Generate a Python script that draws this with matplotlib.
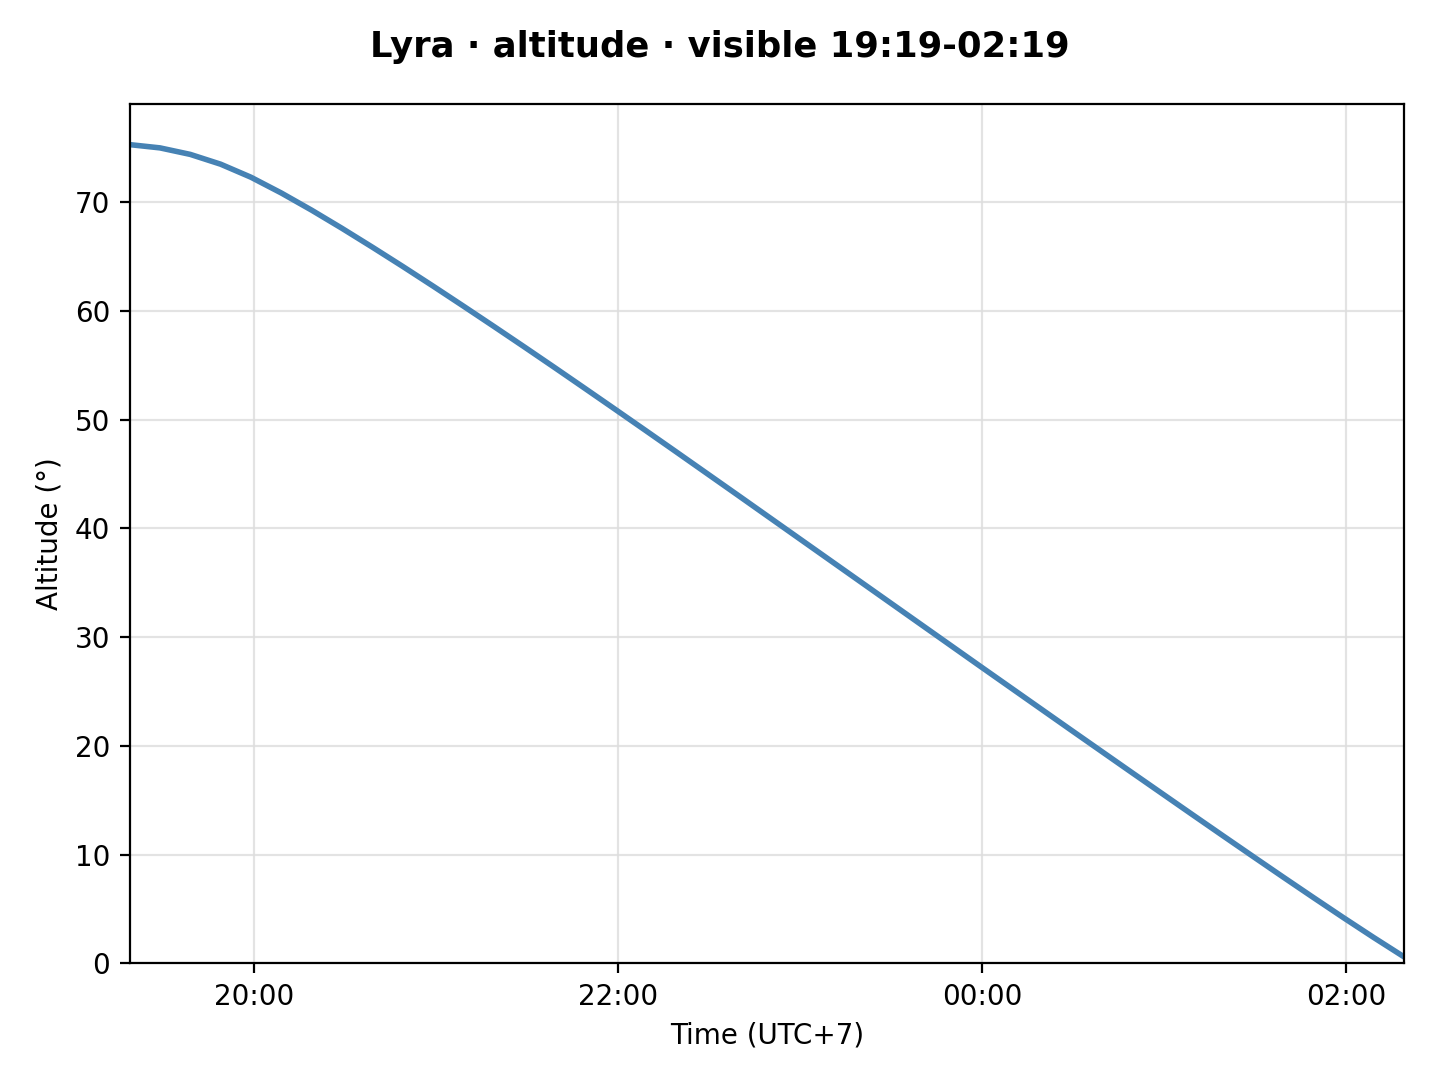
import matplotlib
matplotlib.use("Agg")
import matplotlib.pyplot as plt
import matplotlib.dates as mdates
import numpy as np
import pandas as pd

# Sample times: every 10 minutes from 19:19 to 02:19 (UTC+7)
times = pd.date_range("2024-07-01 19:19", "2024-07-02 02:19", freq="10min")

# Altitude (degrees)
altitude = [
    75.30, 75.00, 74.40, 73.50, 72.30, 70.85, 69.27, 67.60, 65.87, 64.10,
    62.29, 60.45, 58.59, 56.71, 54.81, 52.89, 50.96, 49.02, 47.07, 45.11,
    43.15, 41.18, 39.21, 37.24, 35.27, 33.30, 31.33, 29.36, 27.39, 25.43,
    23.47, 21.51, 19.56, 17.61, 15.67, 13.73, 11.80, 9.88, 7.97, 6.08,
    4.21, 2.38, 0.60,
]

title = "Lyra · altitude · visible 19:19-02:19"
xlabel = "Time (UTC+7)"
ylabel = "Altitude (°)"

fig, ax = plt.subplots(figsize=(7.2, 5.4), dpi=200)
fig.subplots_adjust(left=0.090, right=0.975, top=0.904, bottom=0.108)

ax.plot(times, altitude, color="#4682b4", linewidth=2.0)

ax.set_xlim(times[0], times[-1])
ax.set_ylim(0, max(altitude) * 1.05)
ax.set_yticks(np.arange(0, 71, 10))

ax.xaxis.set_major_locator(mdates.HourLocator(byhour=range(0, 24, 2)))
ax.xaxis.set_major_formatter(mdates.DateFormatter("%H:%M"))

ax.grid(True, color="#dddddd", linewidth=0.8, alpha=0.8)
ax.set_axisbelow(True)

ax.set_xlabel(xlabel, fontsize=10)
ax.set_ylabel(ylabel, fontsize=10)
ax.tick_params(labelsize=10)
fig.suptitle(title, fontsize=12.75, fontweight="bold", y=0.972)

fig.savefig("out.png", dpi=200)
